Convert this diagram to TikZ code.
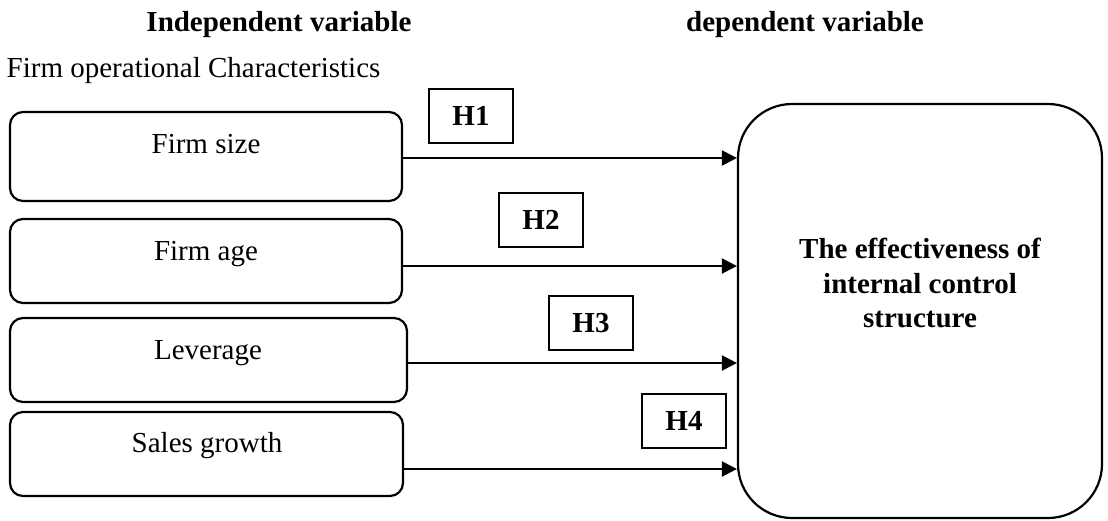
\documentclass[tikz,border=0pt]{standalone}
\usepackage{fontspec}
\setmainfont{Liberation Serif}
\usetikzlibrary{arrows.meta}
\begin{document}
\begin{tikzpicture}[x=1pt,y=-1pt,
  every node/.style={font=\fontsize{29}{34.5}\selectfont, inner sep=0pt},
  boldtext/.style={font=\fontsize{29}{34.5}\selectfont\bfseries},
  varbox/.style={draw, line width=2.2pt, rounded corners=13pt},
  hbox/.style={draw, line width=2pt, minimum width=84pt, minimum height=54pt, font=\fontsize{29}{34.5}\selectfont\bfseries},
  link/.style={line width=2.2pt, -{Triangle[length=15pt,width=15pt]}},
]
\useasboundingbox (0,0) rectangle (1108,520);

% titles
\node[boldtext, anchor=base] (iv) at (279,31.6) {Independent variable};
\node[boldtext, anchor=base] (dv) at (805,31.7) {dependent variable};
\node[anchor=base west] (foc) at (6.5,77.5) {Firm operational Characteristics};

% independent variable boxes
\node[varbox, minimum width=392pt, minimum height=89pt] (b1) at (206,156.5) {};
\node[varbox, minimum width=392pt, minimum height=84pt] (b2) at (206,261) {};
\node[varbox, minimum width=397pt, minimum height=84pt] (b3) at (208.5,360) {};
\node[varbox, minimum width=393pt, minimum height=84pt] (b4) at (206.5,454) {};

\node[anchor=base] (t1) at (206,153) {Firm size};
\node[anchor=base] (t2) at (206,260) {Firm age};
\node[anchor=base] (t3) at (208,359) {Leverage};
\node[anchor=base] (t4) at (207,452) {Sales growth};

% dependent variable box
\node[draw, line width=2.2pt, rounded corners=54pt, minimum width=364pt, minimum height=414pt] (eff) at (920,311) {};
\node[boldtext, align=center] (efft) at (920,283) {The effectiveness of\\internal control\\structure};

% hypothesis labels
\node[hbox] (h1) at (471,116) {H1};
\node[hbox] (h2) at (541,219.5) {H2};
\node[hbox] (h3) at (591,323) {H3};
\node[hbox] (h4) at (684,420.5) {H4};

% connectors
\coordinate (y1) at (0,158);
\coordinate (y2) at (0,266);
\coordinate (y3) at (0,363);
\coordinate (y4) at (0,469);
\draw[link] (b1.east |- y1) -- (eff.west |- y1);
\draw[link] (b2.east |- y2) -- (eff.west |- y2);
\draw[link] (b3.east |- y3) -- (eff.west |- y3);
\draw[link] (b4.east |- y4) -- (eff.west |- y4);
\end{tikzpicture}
\end{document}
